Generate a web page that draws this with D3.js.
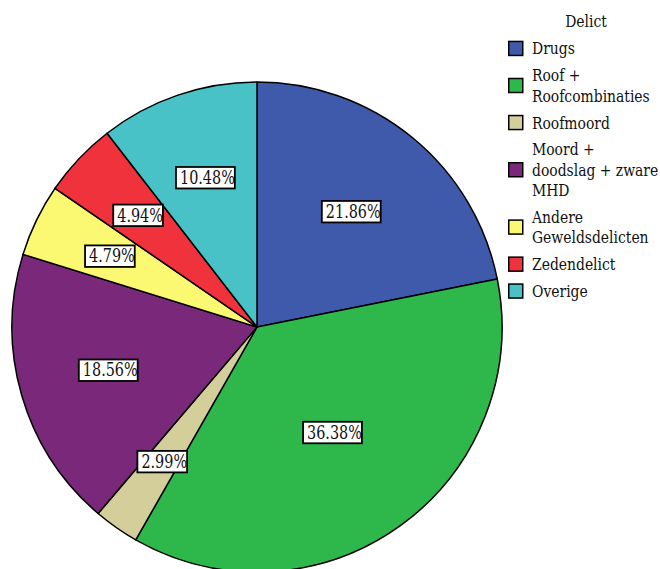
<!DOCTYPE html>
<html>
<head>
<meta charset="utf-8">
<script src="https://cdn.jsdelivr.net/npm/d3@7/dist/d3.min.js"></script>
<style>
  body { margin: 0; background: #fff; }
  svg text { font-family: "DejaVu Serif", serif; }
</style>
</head>
<body>
<svg id="chart" width="660" height="569"></svg>
<script>
// data
var categories = ["Drugs", "Roof +\nRoofcombinaties", "Roofmoord", "Moord +\ndoodslag + zware\nMHD",
                  "Andere\nGeweldsdelicten", "Zedendelict", "Overige"];
var percents = [21.86, 36.38, 2.99, 18.56, 4.79, 4.94, 10.48];
var colors = ["#3f5aab", "#2eb84c", "#d4ce9b", "#7a2879", "#fbf872", "#f0323c", "#48c2c6"];
var legendTitle = "Delict";

// label distance from centre, as share of radius
var labelRadius = [0.61, 0.53, 0.67, 0.63, 0.665, 0.665, 0.645];

var cx = 257, cy = 327, r = 245;

var svg = d3.select("#chart");

// the serif we get is wider than Times, so squeeze it horizontally
function squeezed(parent, x, y, k) {
  return parent.append("text")
    .attr("transform", "translate(" + x + "," + y + ") scale(" + k + ",1)");
}

var pie = d3.pie().sort(null).value(function(d) { return d; });
var arcs = pie(percents);

var arc = d3.arc().innerRadius(0).outerRadius(r);

var g = svg.append("g").attr("transform", "translate(" + cx + "," + cy + ")");

g.selectAll("path.slice")
  .data(arcs)
  .enter()
  .append("path")
  .attr("class", "slice")
  .attr("d", arc)
  .attr("fill", function(d, i) { return colors[i]; })
  .attr("stroke", "#000")
  .attr("stroke-width", 1.5)
  .attr("stroke-linejoin", "round");

// labels in boxes
var labels = g.selectAll("g.lbl")
  .data(arcs)
  .enter()
  .append("g")
  .attr("class", "lbl")
  .attr("transform", function(d, i) {
    var a = (d.startAngle + d.endAngle) / 2;
    var rr = r * labelRadius[i];
    return "translate(" + (rr * Math.sin(a)) + "," + (-rr * Math.cos(a)) + ")";
  });

labels.each(function(d) {
  var sel = d3.select(this);
  var rect = sel.append("rect");
  var t = squeezed(sel, 1.5, 6.5, 0.8)
    .attr("text-anchor", "middle")
    .attr("font-size", 18)
    .attr("fill", "#111")
    .text(d.data.toFixed(2) + "%");
  var w = t.node().getComputedTextLength() * 0.8;
  rect.attr("x", -w / 2 - 2.5)
    .attr("y", -10.5)
    .attr("width", w + 4)
    .attr("height", 21.5)
    .attr("fill", "#fff")
    .attr("stroke", "#000")
    .attr("stroke-width", 1.8);
});

// legend
var legend = svg.append("g").attr("transform", "translate(508,0)");

squeezed(legend, 78, 27, 0.87)
  .attr("text-anchor", "middle")
  .attr("font-size", 16)
  .attr("fill", "#111")
  .text(legendTitle);

var lineH = 20.3, gap = 6.6;
var yPos = 35;
categories.forEach(function(name, i) {
  var lines = name.split("\n");
  var h = lines.length * lineH + gap;
  var mid = yPos + h / 2;
  legend.append("rect")
    .attr("x", 0.75)
    .attr("y", mid - 7)
    .attr("width", 14)
    .attr("height", 14)
    .attr("fill", colors[i])
    .attr("stroke", "#000")
    .attr("stroke-width", 1.5);
  lines.forEach(function(line, j) {
    squeezed(legend, 24, mid - (lines.length - 1) * lineH / 2 + j * lineH + 6, 0.87)
      .attr("font-size", 16)
      .attr("fill", "#111")
      .text(line);
  });
  yPos += h;
});
</script>
</body>
</html>
